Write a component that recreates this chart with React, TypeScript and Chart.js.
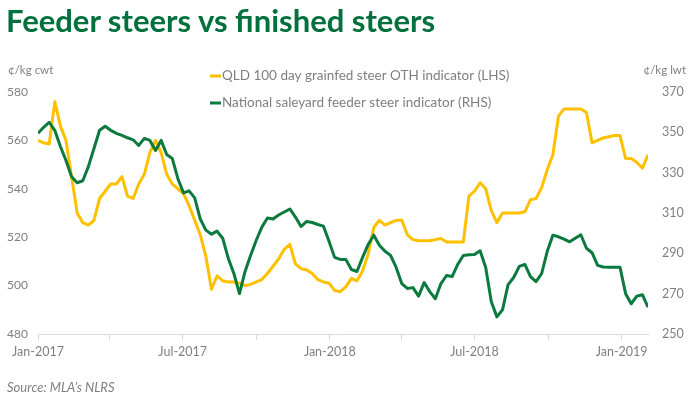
import React, { useEffect, useRef } from "react";
import { Chart, registerables } from "chart.js";

Chart.register(...registerables);

const titleText = "Feeder steers vs finished steers";
const sourceText = "Source: MLA\u2019s NLRS";
const leftUnit = "\u00a2/kg cwt";
const rightUnit = "\u00a2/kg lwt";

const seriesNames = [
  "QLD 100 day grainfed steer OTH indicator (LHS)",
  "National saleyard feeder steer indicator (RHS)",
];

// weekly observations from the start of January 2017
const qldGrainfed = [
  560, 559, 558.5, 576, 566, 560, 545, 530, 526, 525,
  527, 536, 539, 542, 542, 545, 537, 536, 542, 546,
  555, 560, 555, 546, 542, 540, 538, 533, 527, 521,
  512, 498.5, 504, 502, 501.5, 501.5, 501, 500, 500.5, 501.5,
  502.5, 505, 508, 511, 515, 517, 509, 507, 506.5, 505,
  502.5, 501.5, 501, 498, 497.5, 499.5, 503, 502, 506, 513,
  524, 527, 525, 526, 527, 527, 521, 519, 518.5, 518.5,
  518.5, 519, 519.5, 518, 518, 518, 518, 537, 539, 542.5,
  540, 531, 526, 530, 530, 530, 530, 530.5, 535.5, 536,
  540.5, 548, 554, 570, 573, 573, 573, 573, 571.5, 559,
  560, 561, 561.5, 562, 562, 552.5, 552.5, 551, 548.5, 554,
];

const nationalFeeder = [
  349.5, 352.5, 355, 351, 343, 336, 328, 325, 326, 333,
  342, 351, 353, 351, 349.5, 348.5, 347.3, 346.3, 343.5, 347,
  346, 341, 346, 339, 337, 327, 320, 321, 317.5, 307,
  301.5, 299.5, 301, 297.5, 287.5, 280, 270, 281, 289, 296.5,
  303, 307.5, 307, 309, 310.5, 312, 308, 303.3, 305.8, 305.3,
  304.3, 303.5, 296, 288, 287, 287, 282, 281, 288, 294.4,
  299, 294, 291, 289, 283, 275, 272.6, 273, 268.8, 275.5,
  271, 267.5, 275, 279, 278.5, 284.5, 288.9, 289.3, 289.4, 291.3,
  283, 266, 258.5, 262, 274.5, 278, 283.5, 284.5, 278.5, 276,
  280, 291, 299, 298.2, 297, 295.7, 297.5, 299.2, 292.5, 290.3,
  284, 283.2, 283.1, 283.1, 283.1, 270, 265, 268.8, 269.5, 263.3,
];

// x axis: days since 1 Jan 2017
const tickDays = [0, 90, 181, 273, 365, 455, 546, 638, 730];
const tickLabels = ["Jan-2017", "", "Jul-2017", "", "Jan-2018", "", "Jul-2018", "", "Jan-2019"];
const leftMin = 480;
const leftMax = 580;
const rightMin = 250;
const rightMax = 370;

const FONT = "Lato, 'DejaVu Sans', sans-serif";
const GRAY = "#7f7f7f";
const YELLOW = "#FFC000";
const GREEN = "#0B7A3E";

export default function App() {
  const ref = useRef<HTMLCanvasElement | null>(null);

  useEffect(() => {
    document.body.style.margin = "0";
    const canvas = ref.current;
    if (!canvas) return;
    const toPts = (vals: number[]) => vals.map((v, i) => ({ x: i * 7, y: v }));

    const overlay = {
      id: "overlay",
      afterDraw(chart: any) {
        const ctx = chart.ctx;
        ctx.save();
        ctx.font = `11.5px ${FONT}`;
        ctx.fillStyle = GRAY;
        ctx.textBaseline = "middle";
        ctx.textAlign = "left";
        ctx.fillText(leftUnit, 8, 70);
        ctx.textAlign = "right";
        ctx.fillText(rightUnit, 686, 70);
        ctx.font = `13.5px ${FONT}`;
        const rows = [76, 103];
        chart.data.datasets.forEach((ds: any, i: number) => {
          const y = rows[i];
          ctx.strokeStyle = ds.borderColor;
          ctx.lineWidth = 3;
          ctx.beginPath();
          ctx.moveTo(210, y);
          ctx.lineTo(221, y);
          ctx.stroke();
          ctx.textAlign = "left";
          ctx.fillStyle = GRAY;
          ctx.fillText(ds.label, 222, y);
        });
        ctx.restore();
      },
    };

    const chart = new Chart(canvas, {
      type: "line",
      data: {
        datasets: [
          {
            label: seriesNames[0],
            data: toPts(qldGrainfed),
            borderColor: YELLOW,
            backgroundColor: YELLOW,
            borderWidth: 3,
            pointRadius: 0,
            tension: 0,
            yAxisID: "yL",
            order: 1,
            borderJoinStyle: "round",
          },
          {
            label: seriesNames[1],
            data: toPts(nationalFeeder),
            borderColor: GREEN,
            backgroundColor: GREEN,
            borderWidth: 3,
            pointRadius: 0,
            tension: 0,
            yAxisID: "yR",
            order: 0,
            borderJoinStyle: "round",
          },
        ],
      },
      options: {
        responsive: false,
        animation: false,
        devicePixelRatio: 1,
        layout: { padding: { left: 7, top: 92, right: 0, bottom: 0 } },
        plugins: {
          legend: { display: false },
          title: { display: false },
          tooltip: { enabled: false },
        },
        scales: {
          x: {
            type: "linear",
            min: 0,
            max: 763,
            afterBuildTicks: (s: any) => {
              s.ticks = tickDays.map((d) => ({ value: d }));
            },
            afterFit: (s: any) => {
              s.height = 65;
            },
            ticks: {
              autoSkip: false,
              maxRotation: 0,
              padding: 4,
              color: GRAY,
              font: { family: FONT, size: 12.5 },
              callback: (v: any) => {
                const i = tickDays.indexOf(Number(v));
                return i >= 0 ? tickLabels[i] : "";
              },
            },
            grid: {
              drawOnChartArea: false,
              drawTicks: true,
              tickLength: 6,
              color: "#d9d9d9",
            },
            border: { display: true, color: "#d9d9d9", width: 1 },
          },
          yL: {
            type: "linear",
            position: "left",
            min: leftMin,
            max: leftMax,
            afterFit: (s: any) => {
              s.width = 31;
            },
            ticks: {
              stepSize: 20,
              crossAlign: "far",
              color: GRAY,
              font: { family: FONT, size: 12 },
            },
            grid: { display: false, drawTicks: false },
            border: { display: false },
          },
          yR: {
            type: "linear",
            position: "right",
            min: rightMin,
            max: rightMax,
            afterFit: (s: any) => {
              s.width = 52;
            },
            ticks: {
              stepSize: 20,
              padding: 14,
              color: GRAY,
              font: { family: FONT, size: 12.5 },
            },
            grid: { display: false, drawTicks: false },
            border: { display: false },
          },
        },
      },
      plugins: [overlay],
    } as any);

    return () => chart.destroy();
  }, []);

  return (
    <div style={{ position: "relative", width: 700, height: 399, background: "#fff", overflow: "hidden" }}>
      <canvas ref={ref} width={700} height={399} style={{ position: "absolute", left: 0, top: 0, width: 700, height: 399 }} />
      <div
        style={{
          position: "absolute",
          left: 6,
          top: 1,
          fontFamily: FONT,
          fontWeight: 700,
          fontSize: 31,
          color: "#00703C",
          whiteSpace: "nowrap",
          lineHeight: "38px",
        }}
      >
        {titleText}
      </div>
      <div
        style={{
          position: "absolute",
          left: 7,
          top: 379,
          fontFamily: FONT,
          fontStyle: "italic",
          fontSize: 13,
          color: GRAY,
          whiteSpace: "nowrap",
          lineHeight: "17px",
        }}
      >
        {sourceText}
      </div>
    </div>
  );
}
